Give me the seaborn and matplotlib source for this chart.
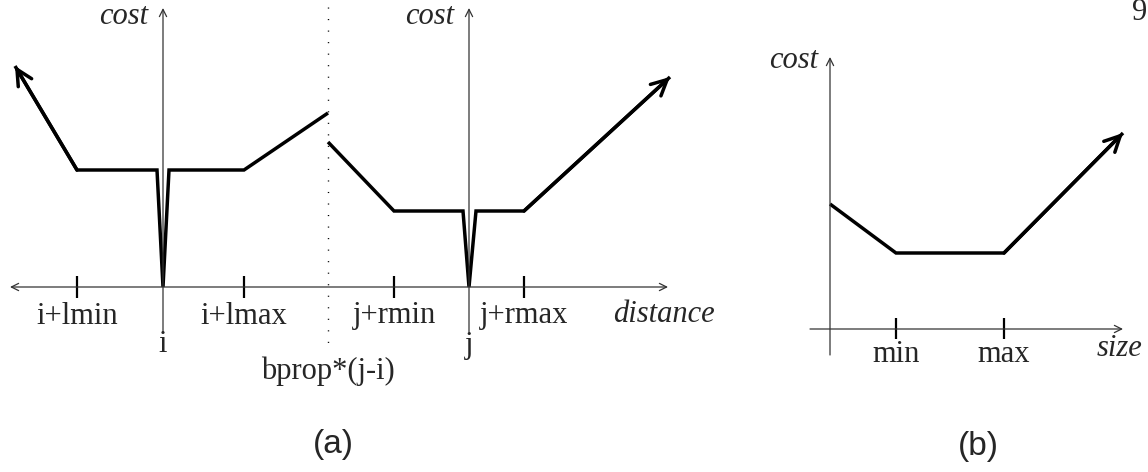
import matplotlib
matplotlib.use('Agg')
import matplotlib.pyplot as plt
import seaborn as sns
import pandas as pd

# ---- data (schematic cost functions) ----
# panel (a): distance axis, i at 0
a_tick_names = ['i+lmin', 'i+lmax', 'j+rmin', 'j+rmax']
a_tick_pos = [-8.6, 8.1, 23.1, 36.1]
a_origin_names = ['i', 'j']
a_origin_pos = [0.0, 30.6]
bprop_pos = 16.5

left_x = [-14.8, -8.6, -0.6, 0.0, 0.6, 8.1, 16.5]
left_cost = [22.1, 11.7, 11.7, 0.0, 11.7, 11.7, 17.4]
right_x = [16.5, 23.1, 30.0, 30.6, 31.3, 36.1, 50.7]
right_cost = [14.5, 7.6, 7.6, 0.0, 7.6, 7.6, 21.0]

# panel (b): size axis
b_tick_names = ['min', 'max']
b_tick_pos = [6.6, 17.4]
size_x = [0.0, 6.6, 17.4, 29.3]
size_cost = [12.5, 7.6, 7.6, 19.6]

sns.set_theme(style='white')
plt.rcParams['font.family'] = ['Liberation Serif', 'DejaVu Serif']

SERIF = 'Liberation Serif'
SANS = 'Liberation Sans'
FS = 22
AXC = '#333333'


def axis_arrow(ax, start, end, style='->'):
    ax.annotate('', xy=end, xytext=start,
                arrowprops=dict(arrowstyle=style, color=AXC, lw=0.9,
                                mutation_scale=13, shrinkA=0, shrinkB=0))


def curve(ax, xs, ys):
    df = pd.DataFrame({'x': xs, 'cost': ys})
    sns.lineplot(data=df, x='x', y='cost', ax=ax, sort=False, estimator=None,
                 color='black', lw=2.5, solid_joinstyle='miter',
                 solid_capstyle='butt')


def curve_head(ax, frm, tip):
    ax.annotate('', xy=tip, xytext=frm,
                arrowprops=dict(arrowstyle='->', color='black', lw=2.5,
                                mutation_scale=28, shrinkA=0, shrinkB=0))


fig = plt.figure(figsize=(11.48, 4.72), dpi=100)

# ---------- panel (a) ----------
ax_a = fig.add_axes([0, 0, 740 / 1148, 1])
ax_a.set_xlim(-16.3, 57.7)
ax_a.set_ylim(-18.5, 28.7)
ax_a.axis('off')

axis_arrow(ax_a, (-15.3, 0), (50.5, 0), '<->')
for pos in a_origin_pos:
    axis_arrow(ax_a, (pos, -4.5), (pos, 27.9))
ax_a.plot([bprop_pos, bprop_pos], [28.0, -6.3], color='black', lw=1.0,
          linestyle=(0, (0.8, 7.5)))

curve(ax_a, left_x, left_cost)
curve(ax_a, right_x, right_cost)
curve_head(ax_a, (left_x[1], left_cost[1]), (left_x[0], left_cost[0]))
curve_head(ax_a, (right_x[-2], right_cost[-2]), (right_x[-1], right_cost[-1]))

ax_a.vlines(a_tick_pos, -1.1, 1.1, color='black', lw=1.6)
for name, pos in zip(a_tick_names, a_tick_pos):
    ax_a.text(pos, -2.9, name, ha='center', va='center', fontsize=FS, family=SERIF)
for name, pos in zip(a_origin_names, a_origin_pos):
    ax_a.text(pos, -5.8, name, ha='center', va='center', fontsize=FS, family=SERIF)
ax_a.text(bprop_pos, -8.4, 'bprop*(j-i)', ha='center', va='center',
          fontsize=FS, family=SERIF)
ax_a.text(45.0, -2.8, 'distance', ha='left', va='center', fontsize=FS,
          family=SERIF, style='italic')
for pos in a_origin_pos:
    ax_a.text(pos - 1.5, 27.0, 'cost', ha='right', va='center', fontsize=FS,
              family=SERIF, style='italic')
ax_a.text(17.0, -15.8, '(a)', ha='center', va='center', fontsize=24, family=SANS)

# ---------- panel (b) ----------
ax_b = fig.add_axes([740 / 1148, 0, 408 / 1148, 1])
ax_b.set_xlim(-9.0, 31.8)
ax_b.set_ylim(-14.3, 32.9)
ax_b.axis('off')

axis_arrow(ax_b, (-2.0, 0), (29.3, 0))
axis_arrow(ax_b, (0, -2.6), (0, 27.2))

curve(ax_b, size_x, size_cost)
curve_head(ax_b, (size_x[-2], size_cost[-2]), (size_x[-1], size_cost[-1]))

ax_b.vlines(b_tick_pos, -1.0, 1.1, color='black', lw=1.6)
for name, pos in zip(b_tick_names, b_tick_pos):
    ax_b.text(pos, -2.6, name, ha='center', va='center', fontsize=FS, family=SERIF)
ax_b.text(26.7, -2.0, 'size', ha='left', va='center', fontsize=FS,
          family=SERIF, style='italic')
ax_b.text(-1.2, 26.9, 'cost', ha='right', va='center', fontsize=FS,
          family=SERIF, style='italic')
ax_b.text(14.8, -11.8, '(b)', ha='center', va='center', fontsize=24, family=SANS)
ax_b.text(31.7, 31.6, '9', ha='right', va='center', fontsize=FS, family=SERIF)

fig.savefig('out.png', dpi=100)
